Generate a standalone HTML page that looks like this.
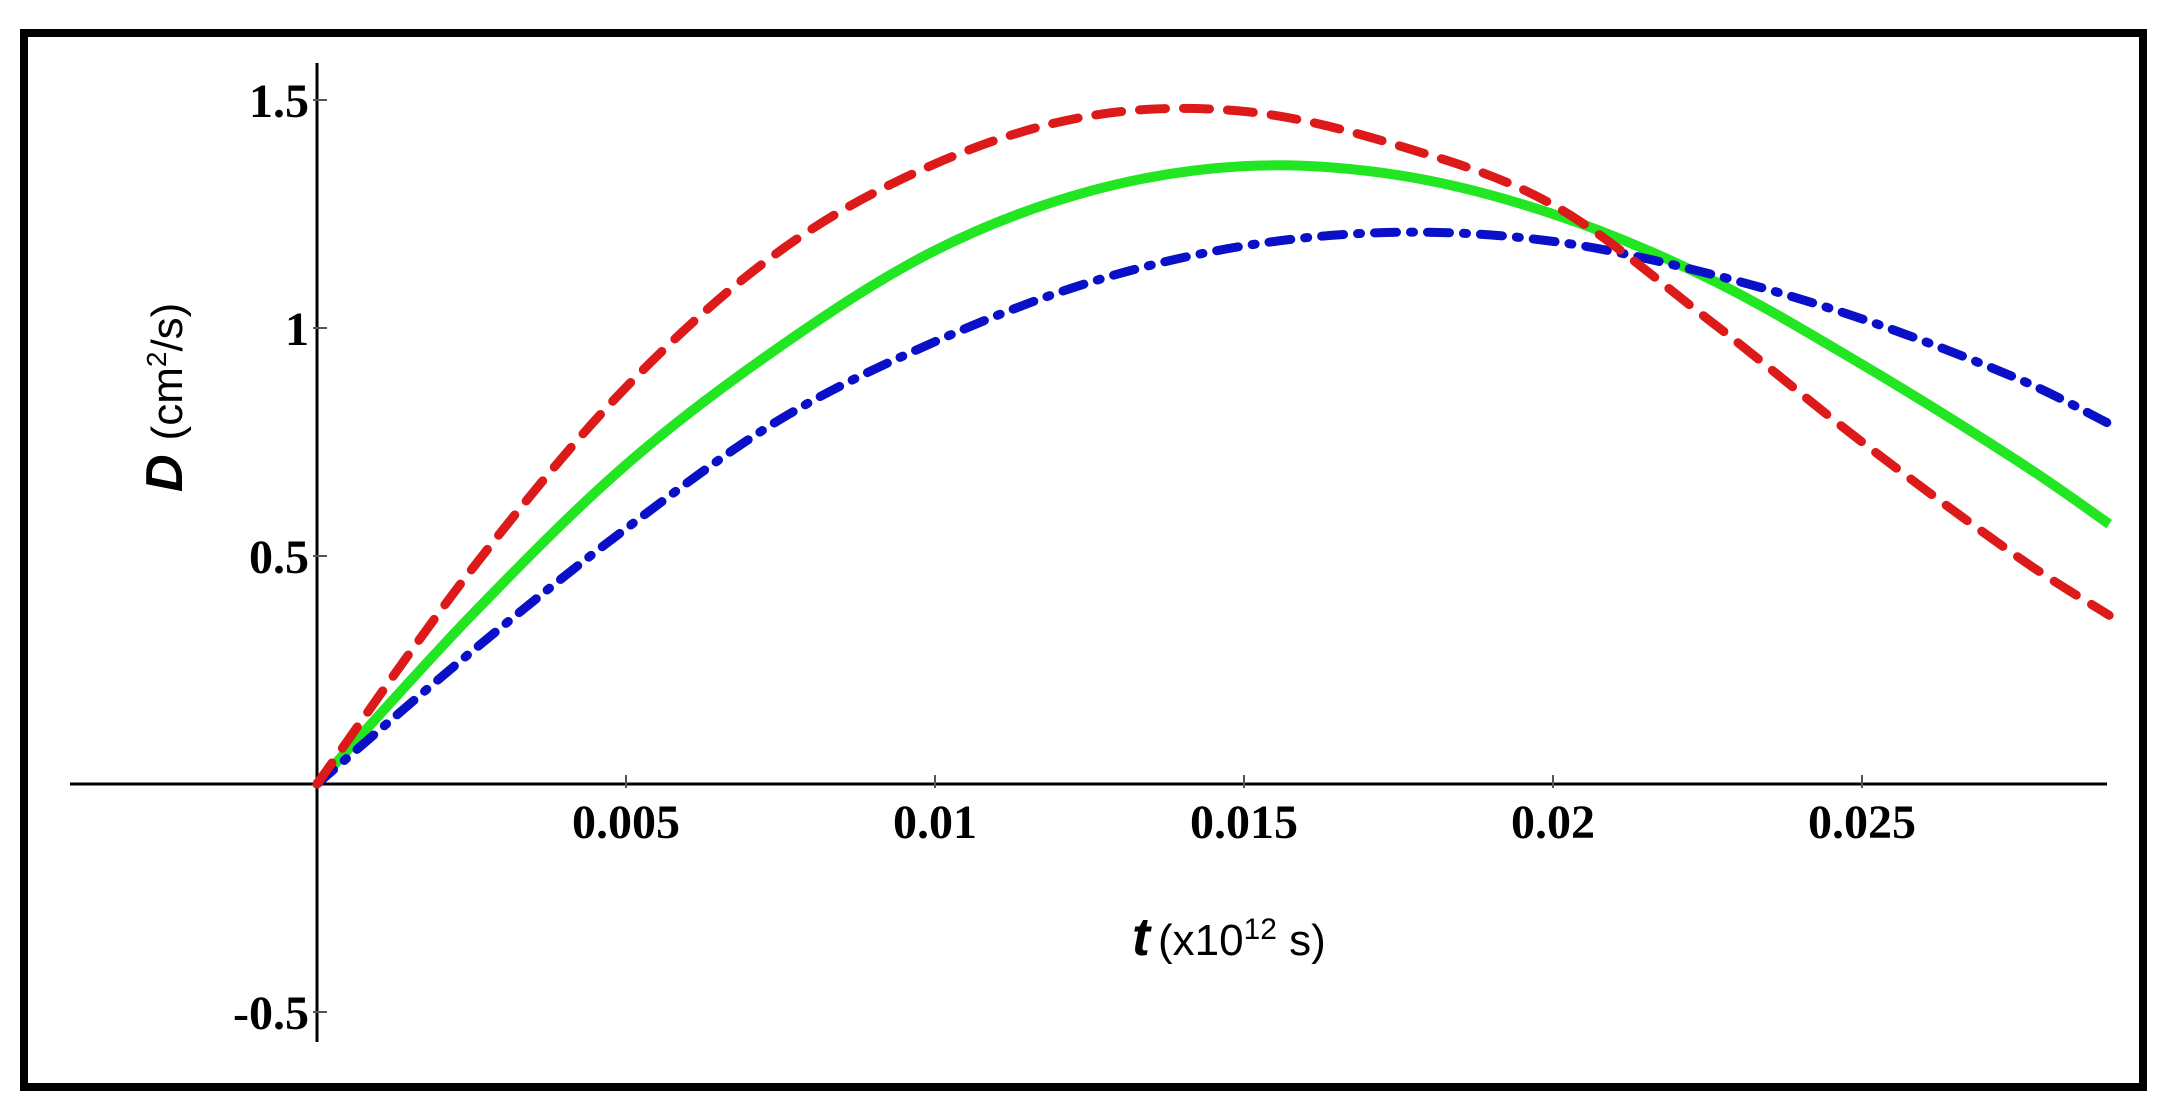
<!DOCTYPE html>
<html><head><meta charset="utf-8"><style>
html,body{margin:0;padding:0;background:#fff;}
svg{display:block;}
</style></head><body>
<svg id="chart" width="2172" height="1113" viewBox="0 0 2172 1113" xmlns="http://www.w3.org/2000/svg">
<rect x="24" y="33" width="2119" height="1054" fill="#fff" stroke="#000" stroke-width="8"/>
<g id="axes"></g>
<g id="series"></g>
<text transform="translate(182,492) rotate(-90)" font-family="Liberation Sans, sans-serif" font-size="44"><tspan font-weight="bold" font-style="italic" font-size="52">D</tspan><tspan dx="14">(cm</tspan><tspan font-size="28" dy="-16">2</tspan><tspan dy="16">/s)</tspan></text>
<text x="1132" y="955" font-family="Liberation Sans, sans-serif" font-size="44"><tspan font-weight="bold" font-style="italic" font-size="54">t</tspan><tspan dx="8">(x10</tspan><tspan font-size="30" dy="-16">12</tspan><tspan dy="16"> s)</tspan></text>
</svg>
<script>
const tValues = [0,0.0025,0.005,0.0075,0.01,0.0125,0.015,0.0175,0.02,0.0225,0.025,0.0275,0.029];
const redValues = [0,0.47,0.87,1.17,1.36,1.465,1.475,1.40,1.27,1.02,0.75,0.50,0.37];
const greenValues = [0,0.37,0.70,0.96,1.17,1.30,1.355,1.335,1.25,1.11,0.92,0.71,0.57];
const blueValues = [0,0.29,0.56,0.80,0.97,1.10,1.18,1.21,1.19,1.12,1.02,0.89,0.79];
const xTicks = [0.005,0.01,0.015,0.02,0.025];
const xTickLabels = ["0.005","0.01","0.015","0.02","0.025"];
const yTicks = [1.5,1,0.5,-0.5];
const yTickLabels = ["1.5","1","0.5","-0.5"];

const NS="http://www.w3.org/2000/svg";
const X = t => 317 + t/0.005*309;
const Y = v => 784 - v*456;
const axes=document.getElementById('axes');
const series=document.getElementById('series');
function mk(tag,attrs,parent){const e=document.createElementNS(NS,tag);for(const k in attrs)e.setAttribute(k,attrs[k]);parent.appendChild(e);return e;}

let xl=mk('line',{x1:70,y1:Y(0),x2:2107,y2:Y(0),stroke:'#000','stroke-width':3},axes);


let yl=mk('line',{x1:X(0),y1:63,x2:X(0),y2:1042,stroke:'#000','stroke-width':3},axes);



xTicks.forEach((t,i)=>{
  let tk=mk('line',{x1:X(t),y1:Y(0)-9,x2:X(t),y2:Y(0)+4,stroke:'#555','stroke-width':2},axes);
  
  
  let tx=mk('text',{x:X(t),y:838,'text-anchor':'middle','font-family':'Liberation Serif, serif','font-weight':'bold','font-size':48},axes);
  tx.textContent=xTickLabels[i];
  
  
});
yTicks.forEach((v,i)=>{
  let tk=mk('line',{x1:X(0)-4,y1:Y(v),x2:X(0)+10,y2:Y(v),stroke:'#555','stroke-width':2},axes);
  
  
  let tx=mk('text',{x:X(0)-8,y:Y(v)+17,'text-anchor':'end','font-family':'Liberation Serif, serif','font-weight':'bold','font-size':48},axes);
  tx.textContent=yTickLabels[i];
  
  
});

function pathFor(vals){
  const p=tValues.map((t,i)=>[X(t),Y(vals[i])]);
  let d=`M${p[0][0]},${p[0][1]}`;
  for(let i=0;i<p.length-1;i++){
    const p0=p[i-1]||p[i],p1=p[i],p2=p[i+1],p3=p[i+2]||p[i+1];
    const c1=[p1[0]+(p2[0]-p0[0])/6,p1[1]+(p2[1]-p0[1])/6];
    const c2=[p2[0]-(p3[0]-p1[0])/6,p2[1]-(p3[1]-p1[1])/6];
    d+=` C${c1[0]},${c1[1]} ${c2[0]},${c2[1]} ${p2[0]},${p2[1]}`;
  }
  return d;
}
let g=mk('path',{d:pathFor(greenValues),fill:'none',stroke:'#22e622','stroke-width':10},series);


let b=mk('path',{d:pathFor(blueValues),fill:'none',stroke:'#0a10c8','stroke-width':9,'stroke-dasharray':'22 14 3 14','stroke-linecap':'round'},series);


let r=mk('path',{d:pathFor(redValues),fill:'none',stroke:'#dd1a1a','stroke-width':9,'stroke-dasharray':'26 18','stroke-linecap':'round'},series);


</script>
</body></html>
